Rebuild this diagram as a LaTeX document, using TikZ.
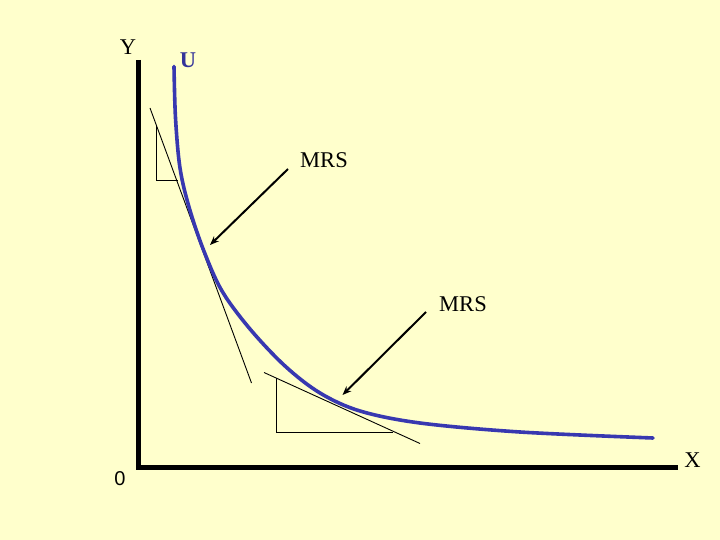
\documentclass[tikz,border=0pt]{standalone}
\usepackage{fontspec}
\setmainfont{Liberation Serif}
\newfontfamily\arialf{Liberation Sans}
\usetikzlibrary{arrows.meta}
\definecolor{bgyellow}{HTML}{FFFFCC}
\definecolor{curveblue}{HTML}{3838B0}
\definecolor{ublue}{HTML}{333399}
\tikzset{
  axisline/.style={line width=4.5pt, line cap=butt, line join=miter},
  ucurve/.style={line width=3.6pt, color=curveblue, line cap=round},
  thinline/.style={line width=0.9pt},
  pointer/.style={line width=2pt, -{Stealth[length=9pt,width=7pt]}},
  lbl/.style={inner sep=0pt, font=\fontsize{22.5}{24}\selectfont}
}
\begin{document}
\begin{tikzpicture}[x=1pt,y=-1pt]
\fill[bgyellow] (0,0) rectangle (720,540);
\useasboundingbox (0,0) rectangle (720,540);
% axes
\coordinate (ytop) at (138.5,60);
\coordinate (orig) at (138.5,467.5);
\coordinate (xend) at (678,467.5);
\draw[axisline] (ytop) -- (orig) -- (xend);
% labels
\node[lbl] (ylab) at (128,47) {Y};
\node[lbl] (xlab) at (692.5,460) {X};
\node[lbl, font=\arialf\fontsize{20}{22}\selectfont] (zero) at (120,479) {0};
\node[lbl, font=\bfseries\fontsize{22.5}{24}\selectfont, text=ublue] (ulab) at (188,60) {U};
\node[lbl] (mrs1) at (324,160) {MRS};
\node[lbl] (mrs2) at (463,304) {MRS};
% tangent lines and triangles
\draw[thinline] (150,108) -- (251.5,383);
\draw[thinline] (156.5,125) -- (156.5,180) -- (178,180);
\draw[thinline] (264,372.5) -- (420,443.5);
\draw[thinline] (276.7,378.4) -- (276.7,432.3) -- (393,432.3);
% indifference curve
\draw[ucurve] plot[smooth, tension=0.55] coordinates {
 (174,66.5) (175.5,118) (180,168) (189,207) (203.5,250) (222,291)
 (250,329) (285,366) (320,393) (360,411) (420,423) (520,432) (653,438)};
% arrows
\coordinate (a1s) at (288,169);
\coordinate (a1e) at (210,245);
\coordinate (a2s) at (426,312);
\coordinate (a2e) at (342.5,395);
\draw[pointer] (a1s) -- (a1e);
\draw[pointer] (a2s) -- (a2e);
\end{tikzpicture}
\end{document}
